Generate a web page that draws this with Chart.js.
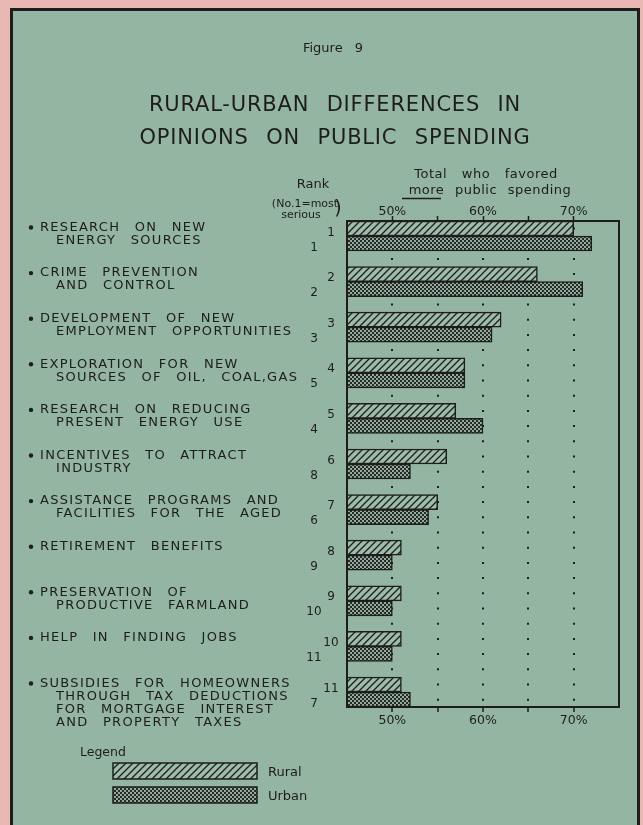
<!DOCTYPE html>
<html>
<head>
<meta charset="utf-8">
<script src="https://cdn.jsdelivr.net/npm/chart.js@4.4.0/dist/chart.umd.min.js"></script>
<style>
    html, body { margin: 0; padding: 0; background: #e9b8b2; }
    #wrap { width: 643px; height: 825px; }
</style>
</head>
<body>
<div id="wrap"><canvas id="spendingChart" width="643" height="825"></canvas></div>
<script>
// Data
const categories = [
    ['RESEARCH ON NEW', 'ENERGY SOURCES'],
    ['CRIME PREVENTION', 'AND CONTROL'],
    ['DEVELOPMENT OF NEW', 'EMPLOYMENT OPPORTUNITIES'],
    ['EXPLORATION FOR NEW', 'SOURCES OF OIL, COAL,GAS'],
    ['RESEARCH ON REDUCING', 'PRESENT ENERGY USE'],
    ['INCENTIVES TO ATTRACT', 'INDUSTRY'],
    ['ASSISTANCE PROGRAMS AND', 'FACILITIES FOR THE AGED'],
    ['RETIREMENT BENEFITS'],
    ['PRESERVATION OF', 'PRODUCTIVE FARMLAND'],
    ['HELP IN FINDING JOBS'],
    ['SUBSIDIES FOR HOMEOWNERS', 'THROUGH TAX DEDUCTIONS', 'FOR MORTGAGE INTEREST', 'AND PROPERTY TAXES']
];
const ruralValues = [70, 66, 62, 58, 57, 56, 55, 51, 51, 51, 51];
const urbanValues = [72, 71, 61, 58, 60, 52, 54, 50, 50, 50, 52];
const ruralRank = [1, 2, 3, 4, 5, 6, 7, 8, 9, 10, 11];
const urbanRank = [1, 2, 3, 5, 4, 8, 6, 9, 10, 11, 7];
const tickValues = [50, 55, 60, 65, 70];
const labeledTicks = [50, 60, 70];

const GREEN = '#94b5a2';
const PINK = '#e9b8b2';
const INK = '#1d1d1b';
const FONT = '"DejaVu Sans", sans-serif';

function makeHatch() {
    const c = document.createElement('canvas');
    c.width = 7; c.height = 7;
    const g = c.getContext('2d');
    g.fillStyle = '#9dbcaa';
    g.fillRect(0, 0, 7, 7);
    g.strokeStyle = INK;
    g.lineWidth = 1.3;
    g.beginPath();
    g.moveTo(-1, 8); g.lineTo(8, -1);
    g.moveTo(-4.5, 4.5); g.lineTo(4.5, -4.5);
    g.moveTo(2.5, 11.5); g.lineTo(11.5, 2.5);
    g.stroke();
    return g.createPattern(c, 'repeat');
}

function makeStipple() {
    const c = document.createElement('canvas');
    c.width = 4; c.height = 4;
    const g = c.getContext('2d');
    g.fillStyle = '#92ab9c';
    g.fillRect(0, 0, 4, 4);
    g.fillStyle = '#262a27';
    g.fillRect(0, 0, 2, 2);
    g.fillRect(2, 2, 2, 2);
    return g.createPattern(c, 'repeat');
}

const hatch = makeHatch();
const stipple = makeStipple();

function text(ctx, s, x, y, size, align, opts) {
    opts = opts || {};
    ctx.font = size + 'px ' + FONT;
    ctx.textAlign = align || 'left';
    ctx.textBaseline = 'middle';
    ctx.letterSpacing = opts.ls || '0px';
    ctx.wordSpacing = opts.ws || '0px';
    ctx.fillStyle = INK;
    ctx.fillText(s, x, y);
    ctx.letterSpacing = '0px';
    ctx.wordSpacing = '0px';
}

const paperPlugin = {
    id: 'paper',
    beforeDraw(chart) {
        const ctx = chart.ctx;
        ctx.save();
        ctx.fillStyle = PINK;
        ctx.fillRect(0, 0, chart.width, chart.height);
        ctx.fillStyle = GREEN;
        ctx.fillRect(10, 8, 630, 830);
        ctx.strokeStyle = INK;
        ctx.lineWidth = 3;
        ctx.strokeRect(11.5, 9.5, 627, 830);
        ctx.restore();
    }
};

const framePlugin = {
    id: 'frame',
    afterDatasetsDraw(chart) {
        const { ctx, chartArea } = chart;
        ctx.save();
        ctx.strokeStyle = INK;
        ctx.lineWidth = 2;
        ctx.strokeRect(chartArea.left, chartArea.top, chartArea.right - chartArea.left, chartArea.bottom - chartArea.top);
        ctx.restore();
    }
};

const annotationPlugin = {
    id: 'annotations',
    afterDraw(chart) {
        const ctx = chart.ctx;
        ctx.save();

        // titles
        text(ctx, 'Figure 9', 333, 49, 13, 'center', { ws: '8px' });
        text(ctx, 'RURAL-URBAN DIFFERENCES IN', 335, 106, 21, 'center', { ls: '0.8px', ws: '10px' });
        text(ctx, 'OPINIONS ON PUBLIC SPENDING', 335, 139, 21, 'center', { ls: '0.8px', ws: '10px' });

        // column headers
        text(ctx, 'Total who favored', 486, 175, 13, 'center', { ls: '0.5px', ws: '10px' });
        text(ctx, 'more public spending', 490, 191, 13, 'center', { ls: '0.5px', ws: '6px' });
        ctx.strokeStyle = INK;
        ctx.lineWidth = 1.3;
        ctx.beginPath();
        ctx.moveTo(402, 198.5); ctx.lineTo(441, 198.5);
        ctx.stroke();

        text(ctx, 'Rank', 313, 185, 13, 'center');
        text(ctx, '(No.1=most', 305, 204, 11, 'center');
        text(ctx, 'serious', 301, 215, 11, 'center');
        text(ctx, ')', 338, 209, 19, 'center');

        // category labels and ranks
        const ruralMeta = chart.getDatasetMeta(0).data;
        const urbanMeta = chart.getDatasetMeta(1).data;
        categories.forEach((lines, i) => {
            const y0 = ruralMeta[i].y - 1;
            ctx.fillStyle = INK;
            ctx.beginPath();
            ctx.arc(31, y0, 2.2, 0, Math.PI * 2);
            ctx.fill();
            lines.forEach((line, j) => {
                text(ctx, line, j === 0 ? 40 : 56, y0 + j * 13, 13, 'left', { ls: '1.3px', ws: '9px' });
            });
            text(ctx, String(ruralRank[i]), 331, ruralMeta[i].y + 4, 12, 'center');
            text(ctx, String(urbanRank[i]), 314, urbanMeta[i].y + 4, 12, 'center');
        });

        // legend
        text(ctx, 'Legend', 80, 753, 12.5, 'left');
        chart.data.datasets.forEach((ds, i) => {
            const y = 763 + i * 24;
            ctx.fillStyle = ds.backgroundColor;
            ctx.fillRect(113, y, 144, 16);
            ctx.strokeStyle = INK;
            ctx.lineWidth = 1.5;
            ctx.strokeRect(113, y, 144, 16);
            text(ctx, ds.label, 268, y + 10, 13, 'left');
        });

        ctx.restore();
    }
};

const tickFont = { family: FONT, size: 12.5 };
const gridColor = (c) => (c.tick && tickValues.includes(c.tick.value)) ? INK : 'rgba(0,0,0,0)';
const AXIS_H = 22;

new Chart(document.getElementById('spendingChart'), {
    type: 'bar',
    data: {
        datasets: [
            {
                label: 'Rural',
                data: ruralValues.map((v, i) => ({ x: v, y: i })),
                backgroundColor: hatch,
                borderColor: INK,
                borderWidth: 1.5,
                borderSkipped: false,
                barThickness: 15
            },
            {
                label: 'Urban',
                data: urbanValues.map((v, i) => ({ x: v, y: i })),
                backgroundColor: stipple,
                borderColor: INK,
                borderWidth: 1.5,
                borderSkipped: false,
                barThickness: 15
            }
        ]
    },
    options: {
        indexAxis: 'y',
        responsive: false,
        animation: false,
        events: [],
        layout: { padding: { left: 347, right: 24, top: 221 - AXIS_H, bottom: 825 - 707 - AXIS_H } },
        plugins: {
            legend: { display: false },
            tooltip: { enabled: false }
        },
        scales: {
            y: {
                type: 'linear',
                display: false,
                reverse: true,
                offset: false,
                grid: { offset: false },
                min: -0.329,
                max: 10.329
            },
            x: {
                type: 'linear',
                position: 'bottom',
                min: 45,
                max: 75,
                afterFit: (scale) => { scale.height = AXIS_H; },
                border: { display: false, dash: [2, 13.2], dashOffset: 8.7 },
                grid: {
                    color: gridColor,
                    lineWidth: 2,
                    tickLength: 5,
                    tickWidth: 1.5
                },
                ticks: {
                    stepSize: 5,
                    autoSkip: false,
                    maxRotation: 0,
                    padding: 1,
                    color: INK,
                    font: tickFont,
                    callback: (v) => labeledTicks.includes(v) ? v + '%' : ''
                }
            },
            x2: {
                type: 'linear',
                position: 'top',
                min: 45,
                max: 75,
                afterFit: (scale) => { scale.height = AXIS_H; },
                border: { display: false },
                grid: {
                    drawOnChartArea: false,
                    color: gridColor,
                    tickLength: 5,
                    tickWidth: 1.5
                },
                ticks: {
                    stepSize: 5,
                    autoSkip: false,
                    maxRotation: 0,
                    padding: -3,
                    color: INK,
                    font: tickFont,
                    callback: (v) => labeledTicks.includes(v) ? v + '%' : ''
                }
            }
        }
    },
    plugins: [paperPlugin, framePlugin, annotationPlugin]
});
</script>
</body>
</html>
